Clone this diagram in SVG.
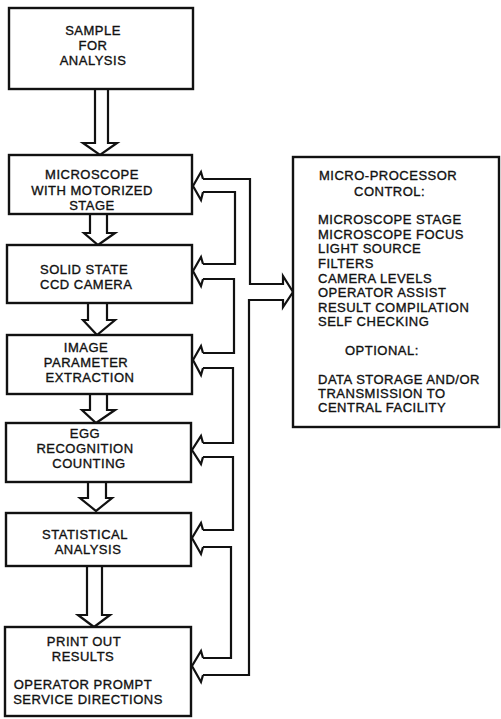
<svg xmlns="http://www.w3.org/2000/svg" width="501" height="719" viewBox="0 0 501 719">
<style>
.box{fill:#fff;stroke:#111;stroke-width:2.4}
.ln{fill:none;stroke:#111;stroke-width:2.2;stroke-linejoin:miter}
text{font-family:"Liberation Sans",Arial,sans-serif;font-size:13px;fill:#111;stroke:#111;stroke-width:0.35;letter-spacing:0.5px}
.c{text-anchor:middle}
</style>
<rect width="501" height="719" fill="#fff"/>
<g id="connectors">
<polyline class="ln" points="95,90 95,143 83,143 100,155 117,143 108,143 108,90"/>
<polyline class="ln" points="90,215 90,233 84,233 98,245 115,233 107,233 107,215"/>
<polyline class="ln" points="88,304 88,320 83,320 97,335 115,320 107,320 107,304"/>
<polyline class="ln" points="90,395 90,410 82,410 96,423 115,410 107,410 107,395"/>
<polyline class="ln" points="88,483 88,498 80,498 96,511 112,498 106,498 106,483"/>
<polyline class="ln" points="87,567 87,615 78,615 94,627 110,615 102,615 102,567"/>
<polyline class="ln" points="203,179 201,172 193,186 201,200 203,192"/>
<polyline class="ln" points="203,264 201,257 193,271 201,286 203,279"/>
<polyline class="ln" points="203,353 201,346 193,360 201,375 203,368"/>
<polyline class="ln" points="203,443 201,436 192,450 201,464 203,457"/>
<polyline class="ln" points="203,530 201,523 192,538 201,554 203,547"/>
<polyline class="ln" points="203,658 201,651 192,666 201,682 203,675"/>
<polyline class="ln" points="203,192 235,192 235,264 203,264"/>
<polyline class="ln" points="203,279 234,279 234,353 203,353"/>
<polyline class="ln" points="203,368 233,368 233,443 203,443"/>
<polyline class="ln" points="203,457 233,457 233,530 203,530"/>
<polyline class="ln" points="203,547 231,547 231,658 203,658"/>
<polyline class="ln" points="203,179 250,179 250,284 283,284 283,276 293,292 283,307 283,300 249,300 249,675 203,675"/>
</g>
<g id="sample">
<rect class="box" x="9" y="8" width="184" height="81"/>
<text class="c" x="93" y="35">SAMPLE</text>
<text class="c" x="93" y="50">FOR</text>
<text class="c" x="93" y="65">ANALYSIS</text>
</g>
<g id="microscope">
<rect class="box" x="9" y="155" width="183" height="59"/>
<text class="c" x="92" y="179">MICROSCOPE</text>
<text class="c" x="92" y="195">WITH MOTORIZED</text>
<text class="c" x="92" y="210">STAGE</text>
</g>
<g id="camera">
<rect class="box" x="7" y="245" width="185" height="58"/>
<text x="40" y="274">SOLID STATE</text>
<text x="40" y="289">CCD CAMERA</text>
</g>
<g id="image">
<rect class="box" x="7" y="335" width="185" height="59"/>
<text class="c" x="86" y="352">IMAGE</text>
<text class="c" x="86" y="367">PARAMETER</text>
<text class="c" x="90" y="382">EXTRACTION</text>
</g>
<g id="egg">
<rect class="box" x="6" y="423" width="185" height="59"/>
<text class="c" x="85" y="438">EGG</text>
<text class="c" x="85" y="453">RECOGNITION</text>
<text class="c" x="89" y="468">COUNTING</text>
</g>
<g id="statistical">
<rect class="box" x="6" y="513" width="185" height="53"/>
<text class="c" x="85" y="539">STATISTICAL</text>
<text class="c" x="88" y="554">ANALYSIS</text>
</g>
<g id="printout">
<rect class="box" x="5" y="627" width="186" height="89"/>
<text class="c" x="84" y="646">PRINT OUT</text>
<text class="c" x="83" y="661">RESULTS</text>
<text class="c" x="83" y="689">OPERATOR PROMPT</text>
<text class="c" x="88" y="704">SERVICE DIRECTIONS</text>
</g>
<g id="microprocessor">
<rect class="box" x="293" y="157" width="206" height="270"/>
<text x="319" y="180">MICRO-PROCESSOR</text>
<text x="354" y="196">CONTROL:</text>
<text x="318" y="224">MICROSCOPE STAGE</text>
<text x="318" y="239">MICROSCOPE FOCUS</text>
<text x="318" y="253">LIGHT SOURCE</text>
<text x="318" y="268">FILTERS</text>
<text x="318" y="283">CAMERA LEVELS</text>
<text x="318" y="297">OPERATOR ASSIST</text>
<text x="318" y="312">RESULT COMPILATION</text>
<text x="318" y="326">SELF CHECKING</text>
<text x="345" y="355">OPTIONAL:</text>
<text x="318" y="384">DATA STORAGE AND/OR</text>
<text x="318" y="398">TRANSMISSION TO</text>
<text x="318" y="412">CENTRAL FACILITY</text>
</g>
</svg>
